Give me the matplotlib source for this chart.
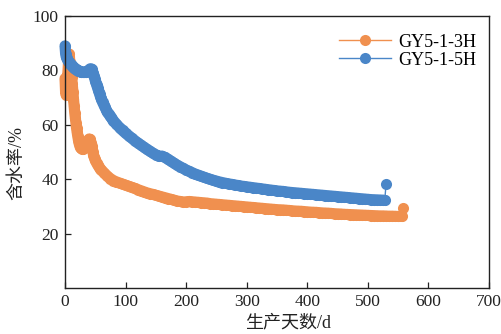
import matplotlib
matplotlib.use("Agg")
import matplotlib.pyplot as plt
from matplotlib.lines import Line2D

# Water cut (%) versus production days for two horizontal wells
days_3h = [0, 1, 2, 3, 4, 5, 6, 7, 8, 9,
           10, 11, 12, 13, 14, 15, 16, 17, 18, 19,
           20, 21, 22, 23, 24, 25, 26, 27, 28, 29,
           30, 31, 32, 33, 34, 35, 36, 37, 38, 39,
           40, 41, 42, 43, 44, 45, 46, 47, 48, 49,
           50, 52, 54, 56, 58, 60, 65, 70, 75, 80,
           85, 90, 95, 100, 105, 110, 115, 120, 125, 130,
           135, 140, 145, 150, 155, 160, 165, 170, 175, 180,
           185, 190, 195, 200, 205, 210, 215, 220, 225, 230,
           235, 240, 245, 250, 255, 260, 265, 270, 275, 280,
           285, 290, 295, 300, 305, 310, 315, 320, 325, 330,
           335, 340, 345, 350, 355, 360, 365, 370, 375, 380,
           385, 390, 395, 400, 405, 410, 415, 420, 425, 430,
           435, 440, 445, 450, 455, 460, 465, 470, 475, 480,
           485, 490, 495, 500, 505, 510, 515, 520, 525, 530,
           535, 540, 545, 550, 556, 558]
water_3h = [77.0, 71.5, 71.0, 72.5, 77.5, 80.0, 84.0, 86.0, 83.0, 80.0,
            78.5, 77.5, 75.0, 72.0, 69.5, 67.0, 64.5, 62.5, 60.5, 58.8,
            57.2, 55.8, 54.5, 53.4, 52.5, 51.9, 51.5, 51.3, 51.2, 51.2,
            51.3, 51.4, 51.5, 51.7, 52.0, 52.4, 52.9, 53.5, 54.1, 54.6,
            54.8, 54.7, 54.2, 53.3, 52.2, 51.0, 49.9, 49.0, 48.2, 47.5,
            46.9, 46.0, 45.2, 44.5, 43.9, 43.4, 42.2, 41.1, 40.2, 39.5,
            39.0, 38.6, 38.2, 37.8, 37.4, 37.0, 36.6, 36.2, 35.8, 35.4,
            35.0, 34.7, 34.4, 34.1, 33.8, 33.5, 33.2, 32.9, 32.6, 32.3,
            32.0, 31.8, 31.6, 31.7, 31.8, 31.7, 31.6, 31.5, 31.4, 31.3,
            31.2, 31.0, 30.9, 30.8, 30.7, 30.6, 30.5, 30.4, 30.3, 30.2,
            30.1, 30.0, 29.9, 29.8, 29.7, 29.6, 29.5, 29.4, 29.3, 29.2,
            29.1, 29.0, 28.9, 28.8, 28.75, 28.7, 28.6, 28.5, 28.4, 28.3,
            28.25, 28.2, 28.1, 28.0, 27.9, 27.85, 27.8, 27.7, 27.6, 27.55,
            27.5, 27.4, 27.3, 27.25, 27.2, 27.1, 27.05, 27.0, 26.95, 26.9,
            26.85, 26.8, 26.75, 26.7, 26.65, 26.6, 26.55, 26.5, 26.5, 26.45,
            26.4, 26.4, 26.35, 26.3, 26.3, 29.4]

days_5h = [0, 1, 2, 3, 4, 5, 6, 7, 8, 9,
           10, 11, 12, 13, 14, 15, 16, 17, 18, 19,
           20, 21, 22, 23, 24, 25, 26, 27, 28, 29,
           30, 31, 32, 33, 34, 35, 36, 37, 38, 39,
           40, 41, 42, 43, 44, 45, 46, 47, 48, 49,
           50, 51, 52, 53, 54, 55, 56, 57, 58, 59,
           60, 62, 64, 66, 68, 70, 72, 74, 76, 78,
           80, 85, 90, 95, 100, 105, 110, 115, 120, 125,
           130, 135, 140, 145, 150, 155, 160, 165, 170, 175,
           180, 185, 190, 195, 200, 205, 210, 215, 220, 225,
           230, 235, 240, 245, 250, 255, 260, 265, 270, 275,
           280, 285, 290, 295, 300, 305, 310, 315, 320, 325,
           330, 335, 340, 345, 350, 355, 360, 365, 370, 375,
           380, 385, 390, 395, 400, 405, 410, 415, 420, 425,
           430, 435, 440, 445, 450, 455, 460, 465, 470, 475,
           480, 485, 490, 495, 500, 505, 510, 515, 520, 525,
           528, 530]
water_5h = [89.0, 86.0, 85.0, 84.5, 84.0, 83.5, 83.2, 82.9, 82.6, 82.3,
            82.0, 81.8, 81.6, 81.4, 81.2, 81.0, 80.8, 80.6, 80.4, 80.2,
            80.1, 80.0, 79.9, 79.8, 79.7, 79.6, 79.5, 79.4, 79.4, 79.3,
            79.3, 79.3, 79.3, 79.3, 79.4, 79.5, 79.6, 79.7, 79.9, 80.1,
            80.3, 80.5, 80.6, 80.6, 80.4, 79.9, 79.2, 78.5, 77.8, 77.0,
            76.2, 75.5, 74.8, 74.1, 73.4, 72.7, 72.0, 71.3, 70.6, 70.0,
            69.4, 68.3, 67.3, 66.4, 65.5, 64.7, 64.0, 63.3, 62.7, 62.1,
            61.5, 60.2, 59.0, 57.9, 56.9, 56.0, 55.1, 54.2, 53.4, 52.6,
            51.8, 51.0, 50.3, 49.6, 49.0, 48.4, 48.5, 48.0, 47.3, 46.6,
            45.9, 45.2, 44.6, 44.0, 43.4, 42.9, 42.4, 41.9, 41.5, 41.1,
            40.7, 40.3, 39.95, 39.6, 39.3, 39.0, 38.75, 38.5, 38.3, 38.1,
            37.9, 37.7, 37.5, 37.35, 37.2, 37.05, 36.9, 36.75, 36.6, 36.45,
            36.3, 36.15, 36.0, 35.85, 35.7, 35.6, 35.5, 35.35, 35.2, 35.1,
            35.0, 34.9, 34.8, 34.7, 34.6, 34.5, 34.4, 34.3, 34.2, 34.1,
            34.0, 33.9, 33.8, 33.7, 33.6, 33.5, 33.4, 33.3, 33.2, 33.1,
            33.0, 32.9, 32.8, 32.7, 32.6, 32.5, 32.45, 32.4, 32.35, 32.3,
            32.2, 38.1]

labels = ["GY5-1-3H", "GY5-1-5H"]
colors = ["#F0904F", "#4A86C8"]

x_ticks = [0, 100, 200, 300, 400, 500, 600, 700]
y_ticks = [20, 40, 60, 80, 100]

serif = ["Liberation Serif", "Noto Sans CJK SC"]
plt.rcParams["font.family"] = serif
plt.rcParams["axes.unicode_minus"] = False

MS = 8.0  # marker diameter in points

fig = plt.figure(figsize=(5.02, 3.34), dpi=100)
ax = fig.add_axes([0.1295, 0.1377, 0.8445, 0.8145])

for d, w, c in zip([days_3h, days_5h], [water_3h, water_5h], colors):
    # dense daily markers merge into a solid band; the final reading stands apart
    ax.plot(d[:-1], w[:-1], color=c, lw=MS, solid_capstyle="round",
            solid_joinstyle="round", clip_on=False)
    ax.plot(d, w, color=c, lw=1.0, marker="o", markersize=MS,
            markeredgewidth=0, clip_on=False)

ax.set_xlim(0, 700)
ax.set_ylim(0, 100)
ax.set_xticks(x_ticks)
ax.set_yticks(y_ticks)
ax.tick_params(direction="in", length=4, width=0.9, labelsize=12.5,
               colors="#222222", pad=4.5)
for s in ax.spines.values():
    s.set_linewidth(1.0)
    s.set_color("#222222")

ax.set_xlabel("生产天数/d", fontsize=13, color="#222222")
ax.set_ylabel("含水率/%", fontsize=13, color="#222222")
ax.xaxis.set_label_coords(0.526, -0.129)
ax.yaxis.set_label_coords(-0.113, 0.458)
ax.xaxis.label.set_va("center")
ax.yaxis.label.set_va("center")

handles = [Line2D([], [], color=c, lw=1.0, marker="o", markersize=MS,
                  markeredgewidth=0) for c in colors]
ax.legend(handles, labels, loc="upper right", frameon=False, fontsize=13,
          handlelength=2.9, handletextpad=0.4, labelspacing=0.06,
          borderaxespad=0.0, bbox_to_anchor=(0.988, 0.962))

fig.savefig("out.png", dpi=100)
